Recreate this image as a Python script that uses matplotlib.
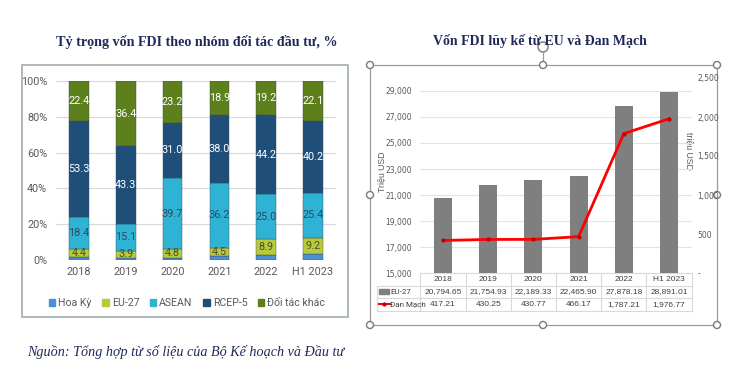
import matplotlib
matplotlib.use("Agg")
import matplotlib.pyplot as plt
import matplotlib.patches as mpatches
from matplotlib import font_manager
import numpy as np

# ---- data: left chart (share of FDI by partner group, %)
years = ["2018", "2019", "2020", "2021", "2022", "H1 2023"]
hoa_ky = [1.5, 1.3, 1.3, 2.4, 2.7, 3.1]
eu27 = [4.4, 3.9, 4.8, 4.5, 8.9, 9.2]
asean = [18.4, 15.1, 39.7, 36.2, 25.0, 25.4]
rcep5 = [53.3, 43.3, 31.0, 38.0, 44.2, 40.2]
khac = [22.4, 36.4, 23.2, 18.9, 19.2, 22.1]

# ---- data: right chart (cumulative FDI, million USD)
eu_fdi = [20794.65, 21754.93, 22189.33, 22465.90, 27878.18, 28891.01]
dk_fdi = [417.21, 430.25, 430.77, 466.17, 1787.21, 1976.77]

installed = {f.name for f in font_manager.fontManager.ttflist}
def pick(*names):
    for n in names:
        if n in installed:
            return n
    return "DejaVu Sans"

narrow = pick("Liberation Sans Narrow", "Roboto", "DejaVu Sans")
sans = pick("Liberation Sans", "DejaVu Sans")
serif = pick("Liberation Serif", "DejaVu Serif")
navy = "#1f2a5a"
grey_txt = "#595959"

W, H = 730, 374
fig = plt.figure(figsize=(7.3, 3.74), dpi=100)

def box(x0, y0, x1, y1):
    return [x0 / W, 1 - y1 / H, (x1 - x0) / W, (y1 - y0) / H]

# overlay in pixel coordinates for frames, titles, source
over = fig.add_axes([0, 0, 1, 1])
over.set_xlim(0, W)
over.set_ylim(H, 0)
over.axis("off")

over.add_patch(mpatches.Rectangle((22, 65), 326, 252, fill=False, ec="#a9b3b3", lw=1.3))
over.add_patch(mpatches.Rectangle((370, 65), 347, 260, fill=False, ec="#9a9a9a", lw=0.9))
over.plot([543, 543], [52, 65], color="#9a9a9a", lw=0.9)
over.add_patch(mpatches.Circle((543, 47), 5, fill=False, ec="#8a8a8a", lw=1.2))
for hx in (370, 543, 717):
    for hy in (65, 195, 325):
        if hx == 543 and hy == 195:
            continue
        over.add_patch(mpatches.Circle((hx, hy), 3.5, fc="white", ec="#7a7a7a", lw=1, zorder=5))

over.text(197, 42, "Tỷ trọng vốn FDI theo nhóm đối tác đầu tư, %", ha="center", va="center",
          fontsize=10.2, fontweight="bold", family=serif, color=navy)
over.text(540, 41, "Vốn FDI lũy kế từ EU và Đan Mạch", ha="center", va="center",
          fontsize=10, fontweight="bold", family=serif, color=navy)
over.text(27, 352, "Nguồn: Tổng hợp từ số liệu của Bộ Kế hoạch và Đầu tư", ha="left", va="center",
          fontsize=10.2, style="italic", family=serif, color=navy)
over.text(382, 172, "Triệu USD", rotation=90, ha="center", va="center", fontsize=6.3,
          color=grey_txt, family=sans)
over.text(689, 151, "triệu USD", rotation=-90, ha="center", va="center", fontsize=6.3,
          color=grey_txt, family=sans)

# ---- left chart
ax1 = fig.add_axes(box(55.6, 81, 336.4, 260))
ax1.set_facecolor("none")
x = np.arange(len(years))
series = [
    ("Hoa Kỳ", hoa_ky, "#4a8fd8", None),
    ("EU-27", eu27, "#b7cb3a", "#4d4d2a"),
    ("ASEAN", asean, "#2fb3d5", "#2c4a66"),
    ("RCEP-5", rcep5, "#1f4e79", "white"),
    ("Đối tác khác", khac, "#5d7f1c", "white"),
]
bottom = np.zeros(len(years))
handles = []
for name, vals, color, tc in series:
    vals = np.array(vals)
    ax1.bar(x, vals, 0.42, bottom=bottom, color=color, edgecolor="#3a4a5a", lw=0.3, zorder=3)
    if tc:
        for xi, b, v in zip(x, bottom, vals):
            ax1.text(xi, b + v / 2, f"{v:.1f}", ha="center", va="center", fontsize=7.8,
                     color=tc, family=narrow, zorder=4)
    bottom += vals
    handles.append(mpatches.Patch(color=color, label=name))

ax1.set_xlim(-0.5, 5.5)
ax1.set_ylim(0, 100)
ax1.set_yticks(range(0, 101, 20))
ax1.set_yticklabels([f"{v}%" for v in range(0, 101, 20)])
ax1.set_xticks(x)
ax1.set_xticklabels(years)
ax1.grid(axis="y", color="#d9d9d9", lw=0.8, zorder=0)
for s in ax1.spines.values():
    s.set_visible(False)
ax1.tick_params(length=0, labelsize=7.8, labelcolor=grey_txt)
ax1.tick_params(axis="y", pad=6)
ax1.tick_params(axis="x", pad=5)
for lab in ax1.get_xticklabels() + ax1.get_yticklabels():
    lab.set_family(narrow)

leg = fig.legend(handles=handles, loc="center", bbox_to_anchor=(187 / W, 1 - 303 / H), ncol=5,
                 frameon=False, handlelength=0.6, handleheight=0.6, handletextpad=0.3,
                 columnspacing=1.0, prop={"family": narrow, "size": 7.6})
for t in leg.get_texts():
    t.set_color(grey_txt)

# ---- right chart
ax2 = fig.add_axes(box(420.4, 78, 691.6, 273))
ax2.set_facecolor("none")
ax2.bar(x, eu_fdi, 0.4, color="#7f7f7f", zorder=3)
ax2.set_xlim(-0.5, 5.5)
ax2.set_ylim(15000, 30000)
ax2.set_yticks(range(15000, 29001, 2000))
ax2.set_yticklabels([f"{v:,}" for v in range(15000, 29001, 2000)])
ax2.set_xticks([])
ax2.grid(axis="y", color="#e3e3e3", lw=0.8, zorder=0)
for s in ax2.spines.values():
    s.set_visible(False)
ax2.tick_params(length=0, labelsize=5.5, labelcolor=grey_txt, pad=6)

ax3 = ax2.twinx()
ax3.set_facecolor("none")
ax3.plot(x, dk_fdi, color="#ff0000", lw=2, marker="o", ms=2, mfc="#c00000", mec="#c00000", zorder=4)
ax3.set_ylim(0, 2500)
ax3.set_yticks(range(0, 2501, 500))
ax3.set_yticklabels(["-"] + [f"{v:,}" for v in range(500, 2501, 500)])
for s in ax3.spines.values():
    s.set_visible(False)
ax3.tick_params(length=0, labelsize=5.5, labelcolor=grey_txt, pad=4)

# data table under the right chart
tr = ax2.get_xaxis_transform()
def px2x(px):
    return (px - 443) / 45.2
rh = 12.5 / 195
xl = px2x(377)
lc = "#d9d9d9"
ax2.plot([-0.5, 5.5], [0, 0], color=lc, lw=0.8, transform=tr, clip_on=False)
for k in (1, 2, 3):
    ax2.plot([xl, 5.5], [-k * rh, -k * rh], color=lc, lw=0.8, transform=tr, clip_on=False)
ax2.plot([xl, xl], [-rh, -3 * rh], color=lc, lw=0.8, transform=tr, clip_on=False)
for i in range(len(years) + 1):
    ax2.plot([i - 0.5, i - 0.5], [0, -3 * rh], color=lc, lw=0.8, transform=tr, clip_on=False)
tfs = 6
for i, yr in enumerate(years):
    ax2.text(i, -0.5 * rh, yr, ha="center", va="center", fontsize=tfs, color="#404040",
             transform=tr, family=sans)
    ax2.text(i, -1.5 * rh, f"{eu_fdi[i]:,.2f}", ha="center", va="center", fontsize=tfs,
             color="#404040", transform=tr, family=sans)
    ax2.text(i, -2.5 * rh, f"{dk_fdi[i]:,.2f}", ha="center", va="center", fontsize=tfs,
             color="#404040", transform=tr, family=sans)
ax2.add_patch(mpatches.Rectangle((px2x(379), -1.5 * rh - 0.012), px2x(389) - px2x(379), 0.024,
                                 color="#7f7f7f", transform=tr, clip_on=False))
ax2.plot([px2x(379), px2x(390)], [-2.5 * rh, -2.5 * rh], color="#ff0000", lw=1.5,
         transform=tr, clip_on=False)
ax2.plot([px2x(384.5)], [-2.5 * rh], marker="o", ms=2, color="#c00000", transform=tr, clip_on=False)
ax2.text(px2x(390), -1.5 * rh, "EU-27", ha="left", va="center", fontsize=5.8, color="#404040",
         transform=tr, family=narrow)
ax2.text(px2x(390.5), -2.5 * rh, "Đan Mạch", ha="left", va="center", fontsize=5.8, color="#404040",
         transform=tr, family=narrow)

fig.savefig("out.png", dpi=100)
